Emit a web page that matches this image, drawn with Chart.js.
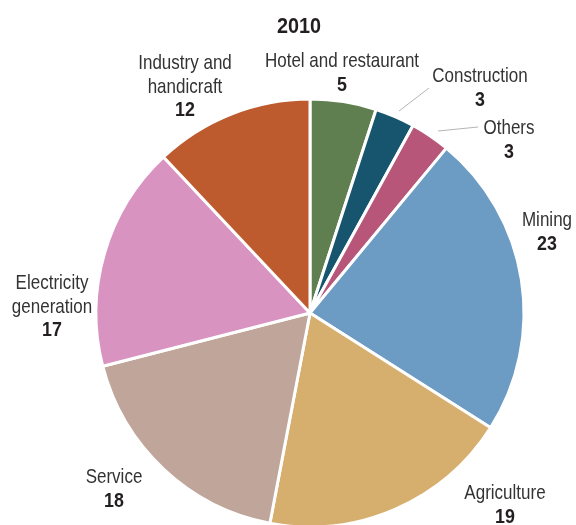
<!DOCTYPE html>
<html>
<head>
<meta charset="utf-8">
<script src="https://cdn.jsdelivr.net/npm/chart.js@4"></script>
<style>
  html, body { margin: 0; padding: 0; background: #fff; overflow: hidden; }
  .wrap { position: relative; width: 576px; height: 540px; }
</style>
</head>
<body>
<div class="wrap"><canvas id="pie"></canvas></div>
<script>
// Employment share by sector, 2010 (percent), clockwise from 12 o'clock
const sectors = ['Hotel and restaurant', 'Construction', 'Others', 'Mining',
  'Agriculture', 'Service', 'Electricity generation', 'Industry and handicraft'];
const shares = [5, 3, 3, 23, 19, 18, 17, 12];
const year = '2010';

const colors = ['#5f7f50', '#17556f', '#b8567a', '#6c9bc3',
  '#d6ae6e', '#bfa59a', '#d893c1', '#bd5a2e'];

// Label placement: text lines, offset of text block centre from pie centre,
// and an optional leader line (from text towards the slice edge).
const labelLayout = [
  {lines: ['Hotel and restaurant'], dx: 32, dy: -240},
  {lines: ['Construction'], dx: 170, dy: -225, leader: [[429, 88], [399, 111]]},
  {lines: ['Others'], dx: 199, dy: -173, leader: [[478, 127], [438, 131]]},
  {lines: ['Mining'], dx: 237, dy: -81},
  {lines: ['Agriculture'], dx: 195, dy: 192},
  {lines: ['Service'], dx: -196, dy: 176},
  {lines: ['Electricity', 'generation'], dx: -258, dy: -6},
  {lines: ['Industry and', 'handicraft'], dx: -125, dy: -226}
];

const FONT = '"Liberation Sans", Arial, sans-serif';
const LINE_H = 23.5;

// condensed look: draw regular sans squeezed horizontally
function narrowText(ctx, text, x, y, sx){
  ctx.save();
  ctx.translate(x, y);
  ctx.scale(sx, 1);
  ctx.fillText(text, 0, 0);
  ctx.restore();
}

const labelPlugin = {
  id: 'sectorLabels',
  afterDraw(chart){
    const ctx = chart.ctx;
    const arc = chart.getDatasetMeta(0).data[0];
    const cx = arc.x, cy = arc.y;
    ctx.save();
    ctx.textAlign = 'center';
    ctx.textBaseline = 'middle';

    // title
    ctx.fillStyle = '#231f20';
    ctx.font = 'bold 22px ' + FONT;
    narrowText(ctx, year, 299, 27, 0.9);

    // leader lines
    ctx.strokeStyle = '#b5b5b5';
    ctx.lineWidth = 1;
    labelLayout.forEach(l=>{
      if (!l.leader) return;
      ctx.beginPath();
      ctx.moveTo(l.leader[0][0], l.leader[0][1]);
      ctx.lineTo(l.leader[1][0], l.leader[1][1]);
      ctx.stroke();
    });

    labelLayout.forEach((l, i)=>{
      const n = l.lines.length + 1;
      const x = cx + l.dx;
      let y = cy + l.dy - (n - 1) * LINE_H / 2;
      ctx.fillStyle = '#333333';
      ctx.font = '21px ' + FONT;
      l.lines.forEach(t=>{ narrowText(ctx, t, x, y, 0.81); y += LINE_H; });
      ctx.fillStyle = '#231f20';
      ctx.font = 'bold 21px ' + FONT;
      narrowText(ctx, String(shares[i]), x, y, 0.85);
    });
    ctx.restore();
  }
};

new Chart(document.getElementById('pie'), {
  type: 'pie',
  data: {
    labels: sectors,
    datasets: [{
      data: shares,
      backgroundColor: colors,
      borderColor: '#ffffff',
      borderWidth: 3
    }]
  },
  options: {
    responsive: true,
    maintainAspectRatio: false,
    animation: false,
    layout: {padding: {left: 94.5, right: 50.5, top: 97.5, bottom: 11.5}},
    plugins: {
      legend: {display: false},
      tooltip: {enabled: false}
    }
  },
  plugins: [labelPlugin]
});
</script>
</body>
</html>
